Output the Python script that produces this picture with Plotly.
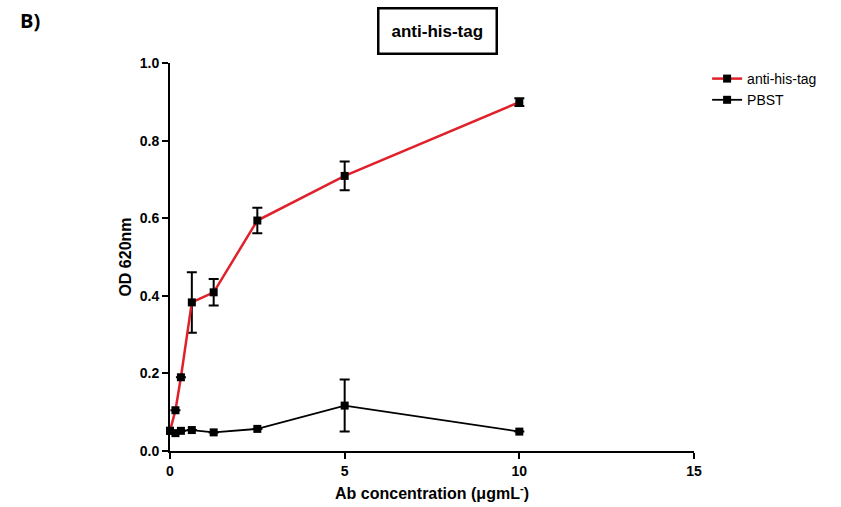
import plotly.graph_objects as go

# Antibody concentration (ug/mL)
conc = [0, 0.156, 0.3125, 0.625, 1.25, 2.5, 5, 10]

# OD 620nm readings
anti_his_tag = [0.052, 0.105, 0.190, 0.383, 0.409, 0.594, 0.709, 0.899]
anti_his_tag_err = [0.0, 0.0, 0.0, 0.078, 0.034, 0.033, 0.037, 0.010]

pbst = [0.052, 0.046, 0.052, 0.054, 0.048, 0.057, 0.117, 0.050]
pbst_err = [0.0, 0.0, 0.0, 0.0, 0.0, 0.0, 0.067, 0.0]

font_family = "Liberation Sans, Arial, sans-serif"

fig = go.Figure()

fig.add_trace(go.Scatter(
    x=conc, y=pbst, name="PBST", mode="lines+markers",
    line=dict(color="black", width=1.8),
    marker=dict(symbol="square", size=8, color="black"),
    error_y=dict(type="data", array=pbst_err, visible=True,
                 color="black", thickness=2, width=5),
    cliponaxis=False,
))

fig.add_trace(go.Scatter(
    x=conc, y=anti_his_tag, name="anti-his-tag", mode="lines+markers",
    line=dict(color="#e0202a", width=2.5),
    marker=dict(symbol="square", size=8, color="black"),
    error_y=dict(type="data", array=anti_his_tag_err, visible=True,
                 color="black", thickness=2, width=5),
    cliponaxis=False,
))

fig.update_layout(
    width=841, height=507,
    margin=dict(l=170, r=147, t=63, b=56),
    paper_bgcolor="white", plot_bgcolor="white",
    font=dict(family=font_family, color="black"),
    showlegend=True,
    legend=dict(x=1.025, y=1.0, xanchor="left", yanchor="top",
                traceorder="reversed",
                font=dict(size=14, family=font_family),
                bgcolor="rgba(0,0,0,0)", itemwidth=30, tracegroupgap=0),
    xaxis=dict(
        range=[0, 15], tickvals=[0, 5, 10, 15],
        automargin=False,
        showline=True, linecolor="black", linewidth=2,
        ticks="outside", ticklen=6, tickwidth=2, tickcolor="black",
        showgrid=False, zeroline=False,
        tickfont=dict(size=14, family=font_family, weight="bold"),
        title=dict(text="Ab concentration (\u03bcgmL<sup>-</sup>)",
                   font=dict(size=16, family=font_family, weight="bold"),
                   standoff=10),
    ),
    yaxis=dict(
        range=[0, 1.0], tickvals=[0, 0.2, 0.4, 0.6, 0.8, 1.0],
        tickformat=".1f",
        automargin=False,
        showline=True, linecolor="black", linewidth=2,
        ticks="outside", ticklen=6, tickwidth=2, tickcolor="black",
        showgrid=False, zeroline=False,
        tickfont=dict(size=14, family=font_family, weight="bold"),
        title=dict(text="OD 620nm",
                   font=dict(size=16, family=font_family, weight="bold"),
                   standoff=4),
    ),
    annotations=[
        dict(text="<b>anti-his-tag</b>", xref="paper", yref="paper",
             x=0.51, y=1.082, xanchor="center", yanchor="middle",
             showarrow=False, font=dict(size=17, family=font_family),
             bordercolor="black", borderwidth=2.5, borderpad=12,
             bgcolor="white"),
        dict(text="<b>B)</b>", xref="paper", yref="paper",
             x=-0.29, y=1.11, xanchor="left", yanchor="middle",
             showarrow=False, font=dict(size=20, family="Open Sans, sans-serif")),
    ],
)

fig.write_html("out.html")
